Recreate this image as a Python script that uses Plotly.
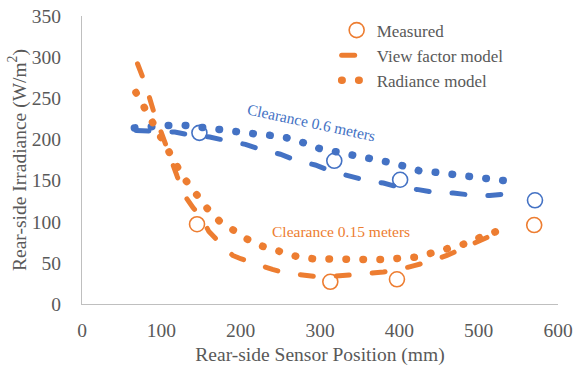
import plotly.graph_objects as go

# ---- data ----
meas_x_06 = [148, 318, 401, 571]
meas_y_06 = [208, 174, 151, 126]
meas_x_015 = [145, 313, 397, 570]
meas_y_015 = [97, 27, 30, 96]

vf_x_06 = [68, 95, 117, 138, 161, 184, 206, 228, 250, 271, 294, 315, 336, 359, 380, 403, 424, 447, 468, 493, 514, 537]
vf_y_06 = [211, 210, 209, 205, 203, 198, 194, 187, 182, 174, 169, 161, 156, 150, 147, 141, 139, 135, 135, 132, 132, 134]

vf_x_015 = [70, 80, 90, 100, 110, 120, 130, 140, 150, 160, 170, 180, 190, 200, 220, 240, 260, 280, 300, 320, 340, 360, 380, 400, 420, 440, 460, 480, 500, 520]
vf_y_015 = [292, 267, 235, 208, 180, 155, 131, 117, 106, 88, 78, 69, 59, 55, 48, 42, 37, 35, 33, 34, 35, 37, 39, 42, 47, 52, 59, 68, 77, 85]

rad_x_06 = [66, 87, 109, 130, 151, 173, 194, 216, 237, 258, 279, 299, 320, 341, 362, 383, 404, 425, 446, 467, 489, 510, 531]
rad_y_06 = [214, 216, 217, 217, 214, 212, 209, 207, 205, 202, 196, 189, 185, 181, 179, 173, 168, 162, 160, 158, 156, 153, 150]

rad_x_015 = [68, 78, 88, 99, 109, 120, 131, 144, 158, 173, 190, 208, 228, 249, 270, 291, 313, 334, 356, 377, 398, 420, 441, 462, 482, 502, 522]
rad_y_015 = [257, 239, 221, 203, 184, 167, 150, 132, 116, 101, 89, 79, 70, 64, 58, 55, 54, 54, 54, 54, 56, 57, 62, 67, 73, 81, 88]

x_ticks = [0, 100, 200, 300, 400, 500, 600]
y_ticks = [0, 50, 100, 150, 200, 250, 300, 350]

ORANGE = "#ED7D31"
BLUE = "#4472C4"
GRAY = "#595959"
FONT = "Liberation Serif, DejaVu Serif, serif"

fig = go.Figure()

# blue (0.6 m) series, not in legend
fig.add_trace(go.Scatter(x=rad_x_06, y=rad_y_06, mode="lines", showlegend=False,
                         line=dict(color=BLUE, width=7.5, dash="0.5px,16.5px")))
fig.add_trace(go.Scatter(x=vf_x_06, y=vf_y_06, mode="lines", showlegend=False,
                         line=dict(color=BLUE, width=5, dash="13px,23px")))
fig.add_trace(go.Scatter(x=meas_x_06, y=meas_y_06, mode="markers", showlegend=False,
                         marker=dict(symbol="circle-open", size=15, color=BLUE, line=dict(width=1.6))))

# orange (0.15 m) series, in legend
fig.add_trace(go.Scatter(x=rad_x_015, y=rad_y_015, mode="lines", name="Radiance model",
                         legendrank=3,
                         line=dict(color=ORANGE, width=7.5, dash="0.5px,16.5px")))
fig.add_trace(go.Scatter(x=vf_x_015, y=vf_y_015, mode="lines", name="View factor model",
                         legendrank=2,
                         line=dict(color=ORANGE, width=5, dash="13px,23px")))
fig.add_trace(go.Scatter(x=meas_x_015, y=meas_y_015, mode="markers", name="Measured",
                         legendrank=1,
                         marker=dict(symbol="circle-open", size=15, color=ORANGE, line=dict(width=1.6))))

fig.add_annotation(x=289, y=220, text="Clearance 0.6 meters", showarrow=False,
                   textangle=12, font=dict(family=FONT, size=15.5, color=BLUE))
fig.add_annotation(x=326, y=88, text="Clearance 0.15 meters", showarrow=False,
                   font=dict(family=FONT, size=15.5, color=ORANGE))

fig.update_layout(
    width=575, height=371,
    margin=dict(l=82, r=17, t=16, b=67, autoexpand=False),
    paper_bgcolor="white", plot_bgcolor="white",
    font=dict(family=FONT, color=GRAY, size=19.5),
    showlegend=True,
    legend=dict(x=0.535, y=1.012, xanchor="left", yanchor="top",
                font=dict(family=FONT, size=17, color=GRAY),
                bgcolor="rgba(0,0,0,0)", itemwidth=30, tracegroupgap=0),
    xaxis=dict(range=[0, 600], tickvals=x_ticks, showgrid=False, zeroline=False,
               showline=True, linecolor="#BFBFBF", linewidth=1, ticks="",
               ticklabelstandoff=9, automargin=False,
               title=dict(text="Rear-side Sensor Position (mm)", standoff=6,
                          font=dict(family=FONT, size=19.5, color=GRAY)),
               tickfont=dict(family=FONT, size=19.5, color=GRAY)),
    yaxis=dict(range=[0, 350], tickvals=y_ticks, showgrid=False, zeroline=False,
               showline=True, linecolor="#BFBFBF", linewidth=1, ticks="",
               ticklabelstandoff=16, automargin=False,
               title=dict(text="Rear-side Irradiance (W/m<sup>2</sup>)", standoff=0,
                          font=dict(family=FONT, size=19.5, color=GRAY)),
               tickfont=dict(family=FONT, size=19.5, color=GRAY)),
)

post = ("var s=document.createElement('style');"
        "s.innerHTML='body{margin:0 !important;} .js-line{stroke-linecap:round !important;}';"
        "document.head.appendChild(s);")

fig.write_html("out.html", post_script=post, config={"displayModeBar": False})
